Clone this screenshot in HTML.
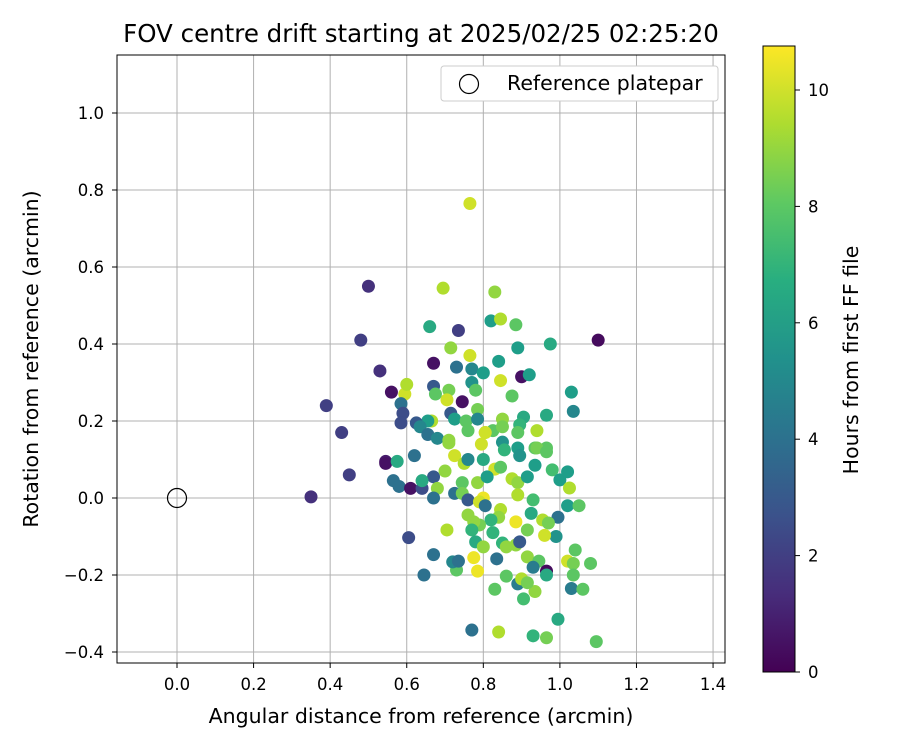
<!DOCTYPE html>
<html><head><meta charset="utf-8"><style>
body{margin:0;background:#fff;font-family:"Liberation Sans","DejaVu Sans",sans-serif}
svg text{font-family:"DejaVu Sans","Liberation Sans",sans-serif;fill:#000}
</style></head><body>
<svg id="chart" width="900" height="750" xmlns="http://www.w3.org/2000/svg">
<defs><linearGradient id="vir" x1="0" y1="1" x2="0" y2="0">
<stop offset="0" stop-color="#440154"/><stop offset="0.125" stop-color="#472d7b"/><stop offset="0.25" stop-color="#3b528b"/><stop offset="0.375" stop-color="#2c728e"/><stop offset="0.5" stop-color="#21918c"/><stop offset="0.625" stop-color="#28ae80"/><stop offset="0.75" stop-color="#5ec962"/><stop offset="0.875" stop-color="#addc30"/><stop offset="1" stop-color="#fde725"/></linearGradient>
<clipPath id="clip"><rect x="117" y="55" width="608" height="608"/></clipPath></defs>
<text x="421" y="42" font-size="24.5" text-anchor="middle">FOV centre drift starting at 2025/02/25 02:25:20</text>
<g id="grid"></g><g id="pts" clip-path="url(#clip)"></g><g id="ticks"></g>
<rect x="117" y="55" width="608" height="608" fill="none" stroke="#000" stroke-width="1"/>
<text x="421" y="723" font-size="20.5" text-anchor="middle">Angular distance from reference (arcmin)</text>
<text transform="translate(38,359) rotate(-90)" font-size="20.5" text-anchor="middle">Rotation from reference (arcmin)</text>
<g>
<rect x="441" y="66" width="277" height="35" rx="3" fill="#fff" stroke="#ccc"/>
<circle cx="469" cy="84" r="9.5" fill="none" stroke="#000" stroke-width="1.2"/>
<text x="507" y="90" font-size="20.5">Reference platepar</text></g>
<rect x="763" y="46" width="32" height="626" fill="url(#vir)" stroke="#000" stroke-width="1"/>
<g id="cbticks"></g>
<text transform="translate(858,360) rotate(-90)" font-size="20.5" text-anchor="middle">Hours from first FF file</text>
</svg>
<script>
const xTicks=[0,0.2,0.4,0.6,0.8,1.0,1.2,1.4];
const yTicks=[-0.4,-0.2,0,0.2,0.4,0.6,0.8,1.0];
const cTicks=[0,2,4,6,8,10];
const xs=[0.35,0.39,0.43,0.45,0.48,0.50,0.53,0.545,0.56,0.595,0.60,0.585,0.59,0.585,0.66,0.695,0.735,0.765,0.67,0.73,0.715,0.765,0.77,0.80,0.77,0.78,0.67,0.71,0.705,0.745,0.785,0.715,0.725,0.755,0.785,0.76,0.805,0.825,0.665,0.655,0.625,0.635,0.655,0.68,0.71,
0.83,0.82,0.845,0.885,0.89,0.975,1.10,0.84,0.845,0.90,0.92,0.875,1.03,1.035,0.965,0.905,0.94,0.895,0.89,0.85,0.85,0.805,0.85,0.89,0.935,0.965,
0.545,0.575,0.62,0.565,0.58,0.61,0.64,0.67,0.64,0.68,0.67,0.70,0.725,0.75,0.745,0.725,0.745,0.76,0.785,0.80,0.79,0.805,0.83,0.845,0.81,0.80,0.855,0.795,0.71,0.76,0.875,0.89,0.89,0.915,0.93,0.895,0.935,0.94,0.965,0.98,1.00,1.02,1.025,1.02,1.05,0.995,0.955,0.97,0.99,0.96,0.925,0.915,0.885,0.845,0.84,0.82,0.79,0.775,0.76,0.77,0.78,0.80,0.825,0.85,0.86,0.885,0.895,0.915,0.945,0.93,0.965,0.965,1.02,1.035,1.04,1.035,1.08,1.03,1.06,0.995,1.095,0.93,0.965,0.84,0.77,0.83,0.86,0.89,0.905,0.90,0.935,0.915,0.835,0.785,0.775,0.73,0.72,0.735,0.67,0.705,0.645,0.605,0.675];
const ys=[0.003,0.24,0.17,0.06,0.41,0.55,0.33,0.095,0.275,0.27,0.295,0.245,0.22,0.195,0.445,0.545,0.435,0.765,0.35,0.34,0.39,0.37,0.335,0.325,0.30,0.28,0.29,0.28,0.255,0.25,0.23,0.22,0.205,0.20,0.205,0.175,0.17,0.175,0.20,0.20,0.195,0.185,0.165,0.155,0.15,
0.535,0.46,0.465,0.45,0.39,0.40,0.41,0.355,0.305,0.315,0.32,0.265,0.275,0.225,0.215,0.21,0.175,0.19,0.17,0.205,0.185,0.17,0.145,0.13,0.13,0.13,
0.09,0.095,0.11,0.045,0.03,0.025,0.025,0.055,0.045,0.025,0.0,0.07,0.11,0.09,0.04,0.012,0.012,-0.005,0.04,0.0,-0.01,-0.02,0.075,0.08,0.055,0.10,0.125,0.14,0.143,0.10,0.05,0.04,0.008,0.055,-0.005,0.11,0.085,0.13,0.12,0.073,0.047,0.068,0.026,-0.02,-0.02,-0.05,-0.057,-0.065,-0.10,-0.097,-0.04,-0.083,-0.062,-0.03,-0.05,-0.057,-0.07,-0.062,-0.044,-0.083,-0.114,-0.127,-0.09,-0.117,-0.127,-0.122,-0.114,-0.153,-0.164,-0.18,-0.19,-0.20,-0.164,-0.17,-0.135,-0.20,-0.17,-0.235,-0.237,-0.315,-0.373,-0.358,-0.363,-0.348,-0.343,-0.237,-0.203,-0.223,-0.262,-0.21,-0.243,-0.22,-0.158,-0.19,-0.155,-0.187,-0.166,-0.164,-0.147,-0.083,-0.20,-0.103,0.27];
const hours=[1.5,2,2,2,2,1.5,1.5,0.8,0.5,10,9.5,4,2.5,2.5,6.5,9.5,2,10,0.5,4,9,10,5,6,5.5,8,3,8.5,10,0.5,8.5,3,6,8,5,8,9.5,8,9.5,6,3,5,4,5,9,
9,6,9.5,8,6,6.5,0.3,6,10,0.5,6,8,6,5,6.5,6.5,9.5,7,8,9,8.5,10,5.5,6,8,8,
0.5,6.5,4,4,4,0.5,2.5,3,6.5,9,4,9,10,9.5,8,4,8.5,3,9,10.5,10,4,10,8,6,6.5,7,10,9,5,9.5,9,9.5,6,7.5,5.5,6,8.5,8,7.5,6,6,9.5,6,8,4,9.5,8.5,5.5,10,6.5,8.5,10.5,9.5,9,7,8.5,9,9,7,6.5,9,7,7,9,9,3,9,8,4.5,0.3,6.5,10,8.5,8,8,8,4.5,8,6.5,8,7,8.5,9.5,4,8,8,4.5,7.5,9.5,9,8.5,4,10.5,10.5,8,5,4,4,9.5,4,2.5,8];
const X=v=>177+v*382.9, Y=v=>498-v*385, C=v=>672-v*58.2;
const vir=[[68,1,84],[72,40,120],[62,74,137],[49,104,142],[38,130,142],[31,158,137],[53,183,121],[109,205,89],[180,222,44],[253,231,37]];
function col(h){let t=Math.max(0,Math.min(1,h/10.76))*9,i=Math.min(8,Math.floor(t)),f=t-i;const a=vir[i],b=vir[i+1];return `rgb(${a.map((v,k)=>Math.round(v+(b[k]-v)*f)).join(',')})`;}
const NS='http://www.w3.org/2000/svg';
function mk(tag,at,parent){const e=document.createElementNS(NS,tag);for(const k in at)e.setAttribute(k,at[k]);parent.appendChild(e);return e;}
const g=document.getElementById('grid'),tk=document.getElementById('ticks'),pts=document.getElementById('pts'),cb=document.getElementById('cbticks');
xTicks.forEach(v=>{const l=mk('line',{x1:X(v),x2:X(v),y1:55,y2:663,stroke:'#b0b0b0','stroke-width':1},g);


mk('line',{x1:X(v),x2:X(v),y1:663,y2:668,stroke:'#000'},tk);
const t=mk('text',{x:X(v),y:690,'font-size':16.5,'text-anchor':'middle'},tk);t.textContent=v.toFixed(1);

});
yTicks.forEach(v=>{const l=mk('line',{x1:117,x2:725,y1:Y(v),y2:Y(v),stroke:'#b0b0b0','stroke-width':1},g);


mk('line',{x1:112,x2:117,y1:Y(v),y2:Y(v),stroke:'#000'},tk);
const t=mk('text',{x:104,y:Y(v)+6,'font-size':16.5,'text-anchor':'end'},tk);t.textContent=(v<0?'\u2212':'')+Math.abs(v).toFixed(1);

});
xs.forEach((x,i)=>{const c=mk('circle',{cx:X(x),cy:Y(ys[i]),r:6.5,fill:col(hours[i])},pts);

});
const ref=mk('circle',{cx:X(0),cy:Y(0),r:9.5,fill:'none',stroke:'#000','stroke-width':1.2},pts);


cTicks.forEach(v=>{mk('line',{x1:795,x2:800,y1:C(v),y2:C(v),stroke:'#000'},cb);
const t=mk('text',{x:808,y:C(v)+6,'font-size':16.5},cb);t.textContent=v;

});
</script>
</body></html>
